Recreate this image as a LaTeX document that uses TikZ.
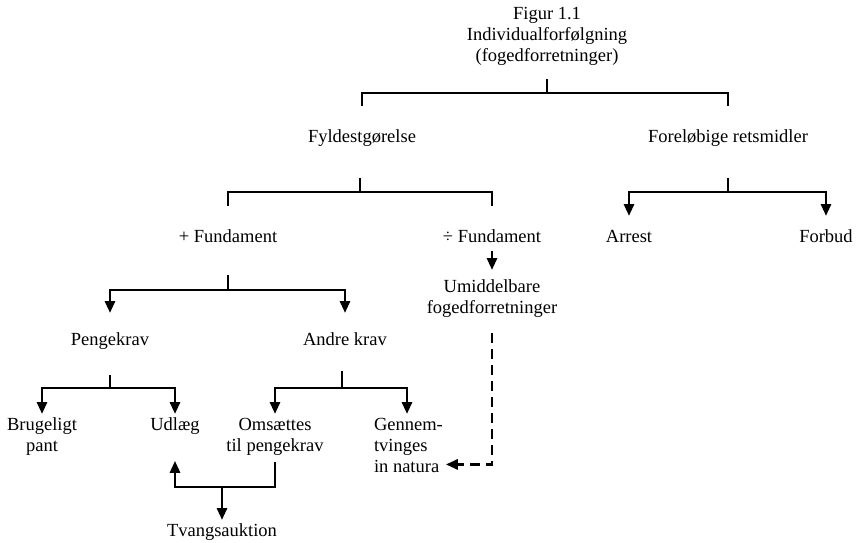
\documentclass[tikz,border=0pt]{standalone}
\usepackage{fontspec}
\setmainfont{Liberation Serif}
\usetikzlibrary{arrows.meta}
\begin{document}
\begin{tikzpicture}[x=1pt,y=-1pt,
  every node/.style={inner sep=0pt,outer sep=0pt,font=\fontsize{18.5}{21}\selectfont},
  ln/.style={line width=2.8pt},
  arr/.style={line width=2.8pt,-{Triangle[width=10pt,length=12pt]}},
  dsh/.style={line width=2.8pt,dash pattern=on 10pt off 6pt,-{Triangle[width=10pt,length=12pt]}}]
\useasboundingbox (0,0) rectangle (856,542);
% nodes
\node[anchor=north,align=center] (ti) at (547,7) {Figur 1.1\\Individualforfølgning\\(fogedforretninger)};
\node[anchor=north] (fy) at (362,130) {Fyldestgørelse};
\node[anchor=north] (fr) at (728,130) {Foreløbige retsmidler};
\node[anchor=north] (pf) at (228,230) {+ Fundament};
\node[anchor=north] (mf) at (492,230) {÷ Fundament};
\node[anchor=north] (ar) at (629,230) {Arrest};
\node[anchor=north] (fo) at (826,230) {Forbud};
\node[anchor=north,align=center] (um) at (492,280) {Umiddelbare\\fogedforretninger};
\node[anchor=north] (pk) at (110,333) {Pengekrav};
\node[anchor=north] (ak) at (345,333) {Andre krav};
\node[anchor=north,align=center] (bp) at (42,418) {Brugeligt\\pant};
\node[anchor=north] (ud) at (175,418) {Udlæg};
\node[anchor=north,align=center] (om) at (275,418) {Omsættes\\til pengekrav};
\node[anchor=north west,align=left] (ge) at (374,418) {Gennem-\\tvinges\\in natura};
\node[anchor=north] (tv) at (222,524) {Tvangsauktion};
% junctions
\coordinate (j0) at (547,93);
\coordinate (j1) at (360,192);
\coordinate (j2) at (728,192);
\coordinate (j3) at (228,290);
\coordinate (j4) at (110,388);
\coordinate (j5) at (342,388);
\coordinate (j6) at (222,487);
% top bracket
\draw[ln,shorten <=14pt] (j0 |- ti.south) -- (j0);
\draw[ln,shorten >=24pt] (j0) -| (fy.north);
\draw[ln,shorten >=24pt] (j0) -| (fr.north);
% Fyldestgorelse bracket
\draw[ln,shorten <=31pt] (j1 |- fy.south) -- (j1);
\draw[ln,shorten >=24pt] (j1) -| (pf.north);
\draw[ln,shorten >=24pt] (j1) -| (mf.north);
% Forelobige bracket
\draw[ln,shorten <=31pt] (j2 |- fr.south) -- (j2);
\draw[arr,shorten >=14pt] (j2) -| (ar.north);
\draw[arr,shorten >=14pt] (j2) -| (fo.north);
% ÷ Fundament
\draw[arr,shorten <=8pt,shorten >=10pt] (mf.south) -- (um.north);
% + Fundament bracket
\draw[ln,shorten <=32pt] (j3 |- pf.south) -- (j3);
\draw[arr,shorten >=20pt] (j3) -| (pk.north);
\draw[arr,shorten >=20pt] (j3) -| (ak.north);
% Pengekrav bracket
\draw[ln,shorten <=25pt] (j4 |- pk.south) -- (j4);
\draw[arr,shorten >=4pt] (j4) -| (bp.north);
\draw[arr,shorten >=4pt] (j4) -| (ud.north);
% Andre krav bracket
\draw[ln,shorten <=25pt] (j5 |- ak.south) -- (j5);
\draw[arr,shorten >=4pt] (j5) -| (om.north);
\draw[arr,shorten >=4pt] (j5) -| ([xshift=33pt]ge.north west);
% dashed
\draw[dsh,shorten <=15pt,shorten >=3pt] (um.south) |- ([yshift=8pt]ge.south east);
% Tvangsauktion loop
\draw[arr,shorten <=7pt,shorten >=26pt] (om.south) |- (j6) -| (ud.south);
\draw[arr,shorten >=4pt] (j6) -- (tv.north);
\end{tikzpicture}
\end{document}
